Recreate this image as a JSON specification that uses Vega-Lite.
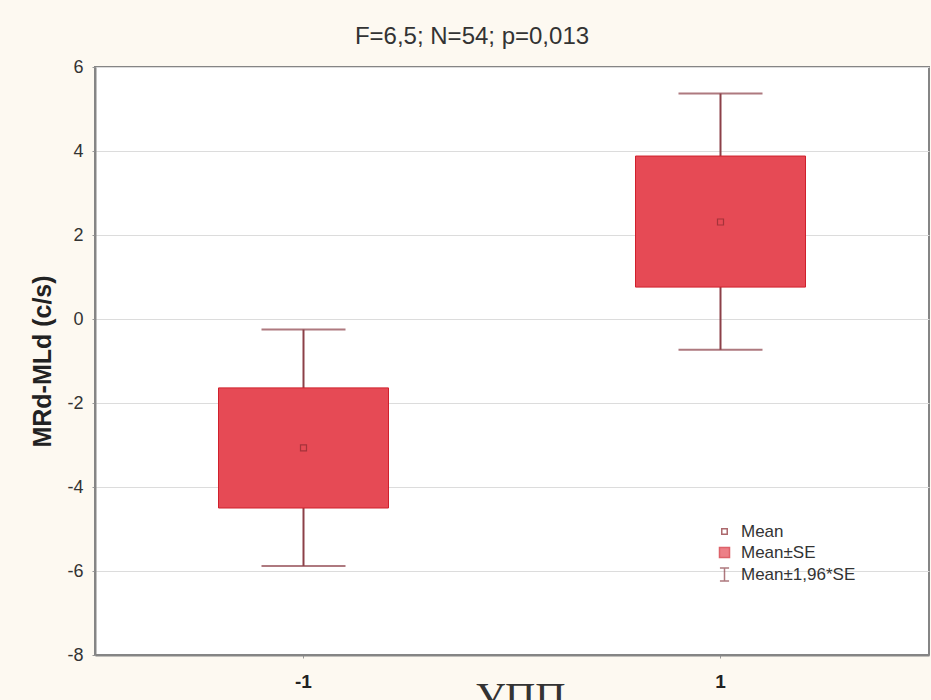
{
  "$schema": "https://vega.github.io/schema/vega-lite/v6.json",
  "width": 834,
  "height": 588,
  "autosize": "none",
  "padding": {"left": 95, "top": 67, "right": 2, "bottom": 45},
  "background": "#fdf9f1",
  "view": {"fill": "#ffffff", "stroke": "#858585", "strokeWidth": 2},
  "title": {
    "text": "F=6,5; N=54; p=0,013",
    "font": "Liberation Sans",
    "fontSize": 24,
    "fontWeight": "normal",
    "color": "#333333",
    "offset": 9,
    "dx": -40
  },
  "config": {
    "view": {"fill": "#ffffff", "stroke": "#858585", "strokeWidth": 2},
    "font": "Liberation Sans"
  },
  "datasets": {
    "stats": [
      {"g": "-1", "mean": -3.07, "seLo": -4.5, "seHi": -1.64, "ciLo": -5.88, "ciHi": -0.25},
      {"g": "1", "mean": 2.31, "seLo": 0.76, "seHi": 3.88, "ciLo": -0.73, "ciHi": 5.37}
    ],
    "legendItems": [
      {"item": "Mean"},
      {"item": "Mean±SE"},
      {"item": "Mean±1,96*SE"}
    ]
  },
  "layer": [
    {
      "data": {"name": "stats"},
      "encoding": {
        "x": {
          "field": "g",
          "type": "nominal",
          "sort": ["-1", "1"],
          "scale": {"paddingInner": 0, "paddingOuter": 0},
          "axis": {
            "title": "УПП",
            "titleFont": "Liberation Serif",
            "titleFontSize": 42,
            "titleFontWeight": "normal",
            "titleColor": "#333333",
            "titleY": 23,
            "titleX": 425,
            "labelAngle": 0,
            "labelFontSize": 19,
            "labelFontWeight": "bold",
            "labelColor": "#222222",
            "labelPadding": 14,
            "domainColor": "#858585",
            "domainWidth": 2,
            "tickColor": "#999999",
            "tickSize": 3,
            "grid": false
          }
        }
      },
      "layer": [
        {
          "mark": {"type": "rule", "color": "#8c4048", "strokeWidth": 2},
          "encoding": {
            "y": {
              "field": "ciLo",
              "type": "quantitative",
              "scale": {"domain": [-8, 6], "nice": false, "zero": false},
              "axis": {
                "title": "MRd-MLd (c/s)",
                "titleFontSize": 25,
                "titleFontWeight": "bold",
                "titleColor": "#222222",
                "titlePadding": 11,
                "values": [-8, -6, -4, -2, 0, 2, 4, 6],
                "labelExpr": "datum.value + ''",
                "labelFontSize": 18,
                "labelColor": "#333333",
                "labelPadding": 9,
                "domainColor": "#858585",
                "domainWidth": 2,
                "tickColor": "#999999",
                "tickSize": 3,
                "gridColor": "#dcdcdc",
                "gridWidth": 1.2
              }
            },
            "y2": {"field": "ciHi"}
          }
        },
        {
          "mark": {"type": "tick", "color": "#8c4048", "thickness": 2, "size": 84, "orient": "horizontal"},
          "encoding": {"y": {"field": "ciLo", "type": "quantitative"}}
        },
        {
          "mark": {"type": "tick", "color": "#8c4048", "thickness": 2, "size": 84, "orient": "horizontal"},
          "encoding": {"y": {"field": "ciHi", "type": "quantitative"}}
        },
        {
          "mark": {"type": "bar", "size": 170, "fill": "#e64a55", "stroke": "#d0202c", "strokeWidth": 1},
          "encoding": {
            "y": {"field": "seLo", "type": "quantitative"},
            "y2": {"field": "seHi"}
          }
        },
        {
          "mark": {"type": "point", "shape": "square", "size": 36, "filled": false, "stroke": "#8a2a30", "strokeWidth": 1.2},
          "encoding": {"y": {"field": "mean", "type": "quantitative"}}
        }
      ]
    },
    {
      "data": {"name": "legendItems"},
      "transform": [{"filter": "false"}],
      "mark": {"type": "point", "filled": true, "strokeWidth": 1.5},
      "encoding": {
        "shape": {
          "field": "item",
          "type": "nominal",
          "scale": {
            "domain": ["Mean", "Mean±SE", "Mean±1,96*SE"],
            "range": ["square", "square", "M-0.7,-1H0.7M0,-1V1M-0.7,1H0.7"]
          },
          "legend": {
            "title": null,
            "orient": "none",
            "legendX": 621,
            "legendY": 456,
            "padding": 0,
            "labelFontSize": 17,
            "labelColor": "#333333",
            "labelOffset": 8,
            "rowPadding": 3,
            "symbolOpacity": 1
          }
        },
        "color": {
          "field": "item",
          "type": "nominal",
          "scale": {
            "domain": ["Mean", "Mean±SE", "Mean±1,96*SE"],
            "range": ["#ffffff", "#e64a55", "transparent"]
          }
        },
        "stroke": {
          "field": "item",
          "type": "nominal",
          "scale": {
            "domain": ["Mean", "Mean±SE", "Mean±1,96*SE"],
            "range": ["#8a2a30", "#d0202c", "#8c4048"]
          }
        },
        "size": {
          "field": "item",
          "type": "nominal",
          "scale": {
            "domain": ["Mean", "Mean±SE", "Mean±1,96*SE"],
            "range": [30, 170, 190]
          }
        }
      }
    }
  ]
}
